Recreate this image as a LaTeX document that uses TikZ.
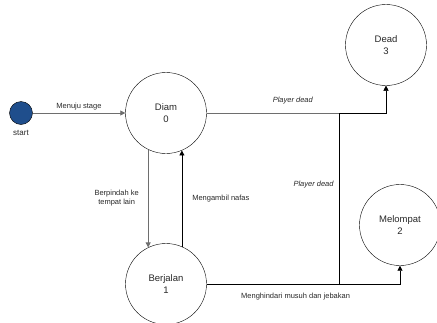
\documentclass[tikz,border=0pt]{standalone}
\usepackage{fontspec}
\setmainfont{Liberation Sans}
\usepackage{tikz}
\usetikzlibrary{arrows.meta,positioning,calc}
\definecolor{dblue}{RGB}{31, 78, 140}
\definecolor{lgray}{RGB}{110, 110, 110}
\definecolor{dtext}{RGB}{40, 40, 40}
\tikzstyle{state} = [circle, draw, thin, fill=white, minimum size=81pt,
  inner sep=0pt, align=center, text=dtext, font=\fontsize{9.5}{11.5}\selectfont]
\tikzstyle{initial} = [circle, draw, thin, fill=dblue, minimum size=23pt, inner sep=0pt]
\tikzstyle{line} = [draw, line width=0.8pt, color=black, -{Triangle[length=5pt,width=5pt]}]
\tikzstyle{gline} = [line, color=lgray]
\tikzstyle{lbl} = [font=\fontsize{7.5}{9}\selectfont, text=dtext, align=center, inner sep=1pt]
\tikzstyle{ilbl} = [lbl, font=\fontsize{7.5}{9}\selectfont\itshape]

\begin{document}
\begin{tikzpicture}[x=1pt, y=-1pt]

  \useasboundingbox (0,0) rectangle (437,322);

  %%%%%%%%%%%%%%%%%%%%%%%%%%%%%%%%%%%%%%%%%%%%%%%%%%%%%%%%%%%%%%
  %                    STATES                                  %
  %%%%%%%%%%%%%%%%%%%%%%%%%%%%%%%%%%%%%%%%%%%%%%%%%%%%%%%%%%%%%%

  \node [initial] (start) at (21,113) {};
  \node [lbl, font=\fontsize{8}{9}\selectfont, below = 4pt of start] (start-label) {start};

  \node [state] (diam) at (166,113) {Diam\\0};
  \node [state] (berjalan) at (166,284) {Berjalan\\1};
  \node [state] (melompat) at (400,225) {Melompat\\2};
  \node [state] (dead) at (386,45) {Dead\\3};

  \coordinate (split) at (339,113);

  %%%%%%%%%%%%%%%%%%%%%%%%%%%%%%%%%%%%%%%%%%%%%%%%%%%%%%%%%%%%%%
  %                    TRANSITIONS                             %
  %%%%%%%%%%%%%%%%%%%%%%%%%%%%%%%%%%%%%%%%%%%%%%%%%%%%%%%%%%%%%%

  \draw [gline] (start) -- node [lbl, above = 2pt] {Menuju stage} (diam);
  \draw [gline] (diam.244) -- node [lbl, left = 8pt] {Berpindah ke\\tempat lain} (berjalan.116);
  \draw [line] (berjalan.67) -- node [lbl, right = 9pt] {Mengambil nafas} (diam.293);
  \draw [gline] (diam.east) -| node [ilbl, pos=0.24, above = 8pt] {Player dead} (dead.south);
  \draw [line] (berjalan.east) -| node [ilbl, pos=0.79, left = 4pt] {Player dead} (split) -| (dead.south);
  \draw [line] (berjalan.east) -| node [lbl, pos=0.23, below = 8pt] {Menghindari musuh dan jebakan} (melompat.south);

\end{tikzpicture}
\end{document}
